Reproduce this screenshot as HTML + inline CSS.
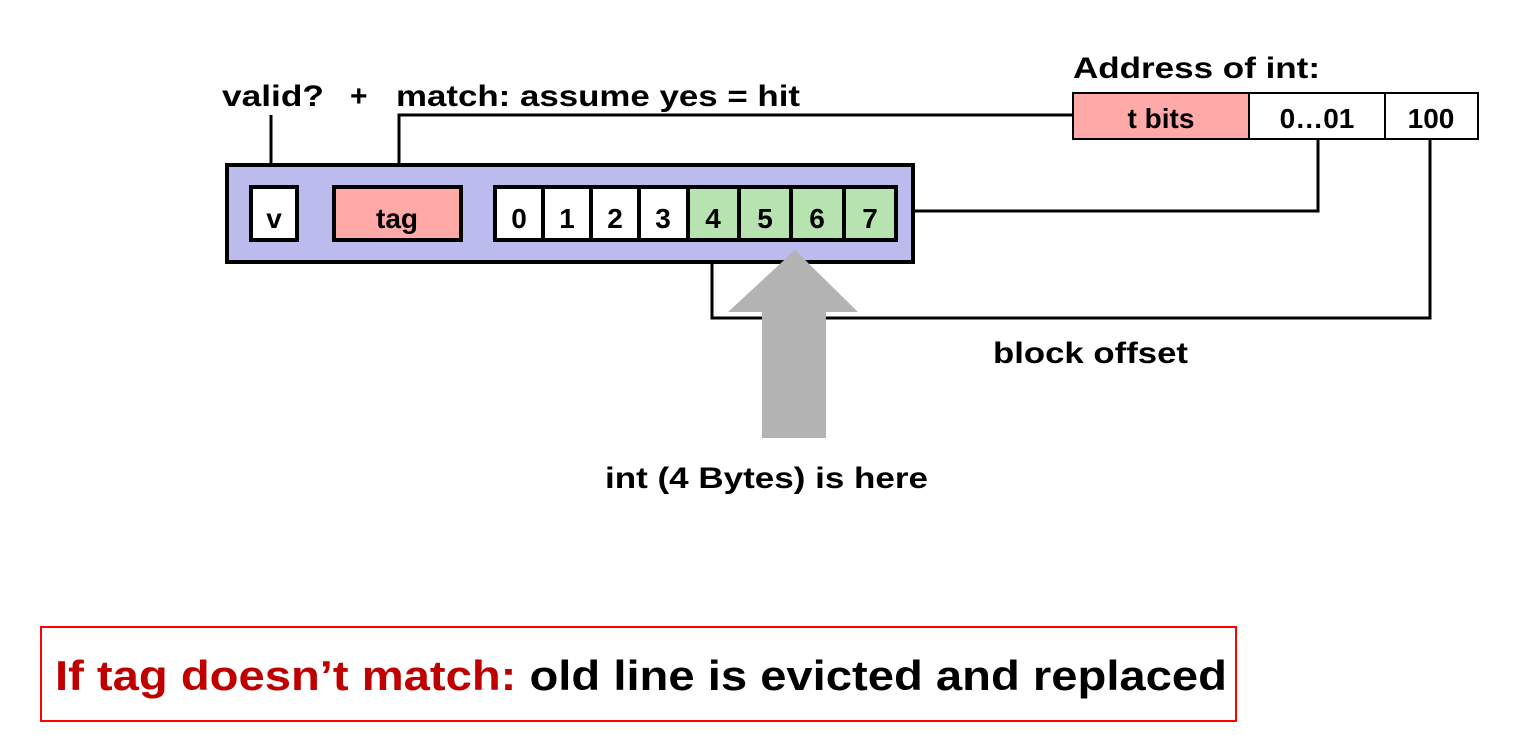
<!DOCTYPE html>
<html><head><meta charset="utf-8"><style>body{margin:0;background:#fff}svg{display:block}text{font-family:"Liberation Sans",sans-serif;font-weight:bold}</style></head>
<body>
<svg width="1540" height="744" viewBox="0 0 1540 744" xmlns="http://www.w3.org/2000/svg">
<g stroke="#000" stroke-width="3" fill="none">
<polyline points="271,185 271,115"/>
<polyline points="399,185 399,115 1072,115"/>
<polyline points="914,211 1318,211 1318,139"/>
<polyline points="712,241 712,318 1430,318 1430,139"/>
</g>
<rect x="227" y="165" width="686" height="97" fill="#bbbbee" stroke="#000" stroke-width="4"/>
<rect x="251" y="187" width="46" height="53" fill="#fff" stroke="#000" stroke-width="4"/>
<rect x="334" y="187" width="127" height="53" fill="#ffaaa8" stroke="#000" stroke-width="4"/>
<g stroke="#000" stroke-width="4">
<rect x="495" y="187" width="48" height="53" fill="#fff"/>
<rect x="543" y="187" width="48" height="53" fill="#fff"/>
<rect x="591" y="187" width="48" height="53" fill="#fff"/>
<rect x="639" y="187" width="49" height="53" fill="#fff"/>
<rect x="688" y="187" width="51" height="53" fill="#b6e3b0"/>
<rect x="739" y="187" width="52" height="53" fill="#b6e3b0"/>
<rect x="791" y="187" width="53" height="53" fill="#b6e3b0"/>
<rect x="844" y="187" width="52" height="53" fill="#b6e3b0"/>
</g>
<polygon points="795,250 858,312 826,312 826,438 762,438 762,312 728,312" fill="#b3b3b3"/>
<g stroke="#000" stroke-width="2">
<rect x="1073" y="93" width="176" height="46" fill="#ffaaa8"/>
<rect x="1249" y="93" width="136" height="46" fill="#fff"/>
<rect x="1385" y="93" width="93" height="46" fill="#fff"/>
</g>
<g font-size="28" text-anchor="middle">
<text x="274" y="228">v</text>
<text x="397" y="228">tag</text>
<text x="519" y="228">0</text><text x="567" y="228">1</text><text x="615" y="228">2</text><text x="663" y="228">3</text>
<text x="713" y="228">4</text><text x="765" y="228">5</text><text x="817" y="228">6</text><text x="870" y="228">7</text>
<text x="1161" y="128">t bits</text><text x="1317" y="128">0…01</text><text x="1431" y="128">100</text>
</g>
<g font-size="30">
<text x="222" y="106" textLength="102" lengthAdjust="spacingAndGlyphs">valid?</text>
<text x="350" y="106">+</text>
<text x="396" y="106" textLength="404" lengthAdjust="spacingAndGlyphs">match: assume yes = hit</text>
<text x="1073" y="78" textLength="247" lengthAdjust="spacingAndGlyphs">Address of int:</text>
<text x="993" y="363" textLength="195" lengthAdjust="spacingAndGlyphs">block offset</text>
<text x="605" y="488" textLength="323" lengthAdjust="spacingAndGlyphs">int (4 Bytes) is here</text>
</g>
<rect x="41" y="627" width="1195" height="94" fill="none" stroke="#ff0000" stroke-width="2"/>
<text x="55" y="690" font-size="42" textLength="1172" lengthAdjust="spacingAndGlyphs"><tspan fill="#c00000">If tag doesn’t match:</tspan> old line is evicted and replaced</text>
</svg>
</body></html>
